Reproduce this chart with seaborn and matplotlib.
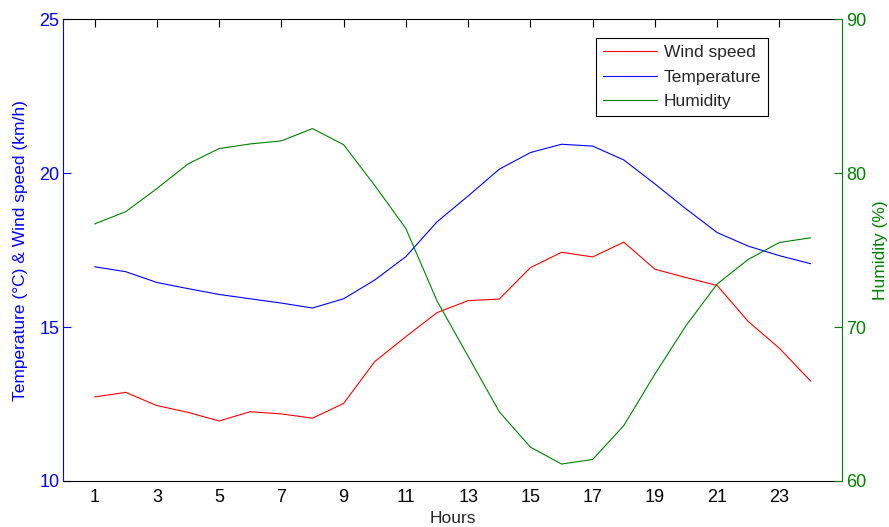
import pandas as pd
import matplotlib
matplotlib.use("Agg")
import matplotlib.pyplot as plt
import seaborn as sns

# values
hours = list(range(1, 25))
wind_speed = [12.73, 12.88, 12.45, 12.23, 11.95, 12.25, 12.18, 12.04,
              12.52, 13.88, 14.69, 15.47, 15.86, 15.91, 16.93, 17.43,
              17.28, 17.76, 16.88, 16.61, 16.35, 15.18, 14.31, 13.25]
temperature = [16.96, 16.80, 16.45, 16.25, 16.06, 15.92, 15.78, 15.62,
               15.92, 16.53, 17.29, 18.42, 19.26, 20.13, 20.67, 20.94,
               20.88, 20.43, 19.65, 18.84, 18.07, 17.63, 17.32, 17.06]
humidity = [76.7, 77.5, 79.0, 80.6, 81.6, 81.9, 82.1, 82.9,
            81.85, 79.2, 76.4, 71.7, 68.1, 64.5, 62.2, 61.1,
            61.4, 63.6, 66.95, 70.1, 72.8, 74.4, 75.5, 75.8]

x_ticks = list(range(1, 24, 2))
left_ticks = [10, 15, 20, 25]
right_ticks = [60, 70, 80, 90]

sns.set_style("white")
plt.rcParams['font.family'] = ['Liberation Sans', 'DejaVu Sans']
plt.rcParams['font.size'] = 12.5

blue = '#0000ff'
red = '#ff0000'
green = '#008000'
fs = 12.5

df = pd.DataFrame({'Hours': hours, 'Wind speed': wind_speed,
                   'Temperature': temperature, 'Humidity': humidity})

fig = plt.figure(figsize=(8.89, 5.27), dpi=100)
ax = fig.add_axes([0.0714, 0.0873, 0.8754, 0.8761])
ax2 = ax.twinx()

sns.lineplot(data=df, x='Hours', y='Wind speed', ax=ax, color=red, lw=0.8,
             label='Wind speed', legend=False)
sns.lineplot(data=df, x='Hours', y='Temperature', ax=ax, color=blue, lw=0.8,
             label='Temperature', legend=False)
sns.lineplot(data=df, x='Hours', y='Humidity', ax=ax2, color=green, lw=0.8,
             label='Humidity', legend=False)

ax.set_xlim(0, 25)
ax.set_ylim(10, 25)
ax2.set_ylim(60, 90)
ax.set_xticks(x_ticks)
ax.set_yticks(left_ticks)
ax2.set_yticks(right_ticks)

ax.set_xlabel('Hours', fontsize=fs)
ax.set_ylabel('Temperature (°C) & Wind speed (km/h)', color=blue, fontsize=fs)
ax2.set_ylabel('Humidity (%)', color=green, fontsize=fs, rotation=90)
ax.xaxis.set_label_coords(0.5, -0.064)
ax.yaxis.set_label_coords(-0.046, 0.5)
ax2.yaxis.set_label_coords(1.040, 0.5)

# spines
for s in ['top', 'bottom']:
    ax.spines[s].set_color('black')
    ax.spines[s].set_linewidth(0.8)
    ax2.spines[s].set_visible(False)
ax.spines['left'].set_color(blue)
ax.spines['left'].set_linewidth(0.8)
ax.spines['right'].set_visible(False)
ax2.spines['left'].set_visible(False)
ax2.spines['right'].set_color(green)
ax2.spines['right'].set_linewidth(0.8)

ax.tick_params(axis='x', direction='in', top=True, length=5.5, width=0.8,
               colors='black', pad=6, labelsize=13)
ax.tick_params(axis='y', direction='in', left=True, right=False, length=5.5,
               width=0.8, colors=blue, pad=3, labelsize=13)
ax2.tick_params(axis='y', direction='in', right=True, left=False, length=5.5,
                width=0.8, colors=green, pad=3.5, labelsize=13)

h1, l1 = ax.get_legend_handles_labels()
h2, l2 = ax2.get_legend_handles_labels()
leg = ax2.legend(h1 + h2, l1 + l2, loc='upper right', bbox_to_anchor=(0.905, 0.959),
                 borderaxespad=0, frameon=True, fancybox=False, edgecolor='black',
                 framealpha=1, handlelength=3.1, handletextpad=0.4,
                 labelspacing=0.55, borderpad=0.38, fontsize=fs)
leg.get_frame().set_linewidth(0.8)

fig.savefig('out.png', dpi=100)
